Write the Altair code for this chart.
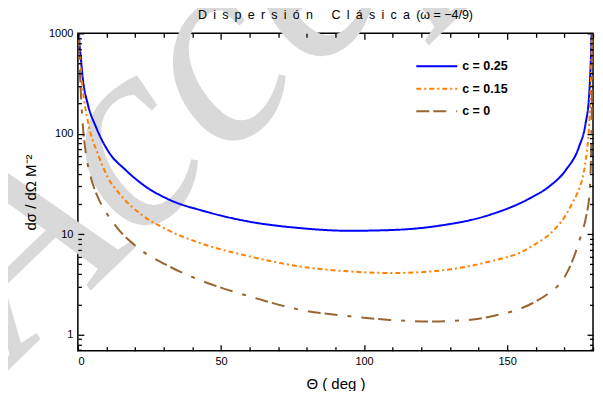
import altair as alt
import pandas as pd

# ---- data ----
series_names = ["c = 0.25", "c = 0.15", "c = 0"]

theta_c025 = [0.3, 0.45, 1.0, 1.8, 3.5, 6.3, 10.9, 16.7, 23.5, 32, 44.6, 60, 77.4, 95,
              110, 126, 144, 158, 164.6, 170.5, 175.1, 177.4, 178.6, 179.2, 179.5, 179.7]
val_c025 = [1500, 920, 580, 340, 195, 117, 65, 43.5, 30, 22, 16.8, 13.3, 11.5, 10.8,
            11.0, 12.1, 15.6, 22.8, 29.7, 43.5, 74, 126, 233, 500, 920, 1500]

theta_c015 = [0.2, 0.45, 1.05, 2.2, 3.9, 6.9, 10.4, 14.4, 23.1, 30, 43, 60, 77.4, 95,
              110, 126, 144, 155.3, 160, 163.5, 167, 170.5, 173, 175.1, 176.5, 177.8, 178.8,
              179.4, 179.7]
val_c015 = [1500, 850, 428, 216, 117, 63.7, 37, 25.5, 15, 11.5, 8.1, 6.0, 4.77, 4.25,
            4.1, 4.32, 5.35, 6.7, 8.0, 9.3, 11.5, 15.5, 21, 28, 38, 65, 150,
            500, 1500]

theta_c0 = [0.15, 0.45, 1.05, 1.6, 2.8, 4.5, 6.9, 10.4, 13.8, 20.5, 31.9, 40, 46, 60, 77.4,
            95, 109, 123, 138, 147.2, 151.8, 158.8, 164.6, 169.9, 173.4, 175.7, 177.6,
            178.8, 179.4, 179.8]
val_c0 = [1500, 676, 251, 136, 63.7, 37, 23.6, 15.6, 11.5, 7.5, 4.77, 3.74, 3.21, 2.40, 1.77,
          1.52, 1.40, 1.35, 1.41, 1.58, 1.70, 2.05, 2.59, 3.66, 6.0, 9.5, 15,
          26, 80, 1000]

x_label_values = [0, 50, 100, 150]
x_tick_values = list(range(0, 181, 10))
y_label_values = [1, 10, 100, 1000]
y_tick_values = [0.7, 0.8, 0.9] + [k * 10 ** e for e in range(0, 3) for k in range(1, 10)] + [1000]

# letter-spaced title, as in the reference
SEP = "\u2002"
title_text = (SEP.join("Dispersión") + SEP * 3 + SEP.join("Clásica") + SEP
              + "(ω\u00a0=\u00a0−4/9)")
watermark_text = "Accepted"

# ---- styles ----
colors = ["#0000FF", "#FF8000", "#996633"]
dashes = [[1, 0], [5, 3, 2, 3], [13, 4, 13, 10, 4, 10]]
widths = [2.0, 2.0, 2.5]

rows = []
for name, th, vv in [(series_names[0], theta_c025, val_c025),
                     (series_names[1], theta_c015, val_c015),
                     (series_names[2], theta_c0, val_c0)]:
    for t, v in zip(th, vv):
        rows.append({"theta": t, "val": v, "series": name})
df = pd.DataFrame(rows)

W, H = 516, 318
FONT = "Liberation Sans"
xscale = alt.Scale(domain=[0, 180], nice=False, zero=False)
yscale = alt.Scale(type="log", domain=[0.69, 1000], nice=False)
color_enc = alt.Color("series:N", scale=alt.Scale(domain=series_names, range=colors), legend=None)
dash_enc = alt.StrokeDash("series:N", scale=alt.Scale(domain=series_names, range=dashes), legend=None)
width_enc = alt.StrokeWidth("series:N", scale=alt.Scale(domain=series_names, range=widths), legend=None)

x_tick_size = {"condition": {"test": "datum.value % 50 === 0", "value": 6}, "value": 4}
y_tick_size = {"condition": {"test": "abs(log(datum.value)/LN10 - round(log(datum.value)/LN10)) < 0.001",
                             "value": 6}, "value": 3.5}

one = pd.DataFrame({"k": [0]})

# watermark (behind everything)
wm = alt.Chart(one).mark_text(
    text=watermark_text, font="Liberation Serif", fontStyle="italic", fontSize=275,
    angle=316, color="#d9d9d9", align="left", baseline="alphabetic"
).encode(x=alt.value(-62), y=alt.value(330))

lines = alt.Chart(df).mark_line(clip=True, interpolate="monotone").encode(
    x=alt.X("theta:Q", scale=xscale,
            axis=alt.Axis(values=x_label_values, ticks=False, domain=False, grid=False, zindex=1,
                          labelFontSize=11, labelFont=FONT, labelColor="black", labelPadding=5,
                          title="Θ  ( deg )", titleFont=FONT, titleFontSize=15,
                          titleFontWeight="normal", titleColor="black", titlePadding=10)),
    y=alt.Y("val:Q", scale=yscale,
            axis=alt.Axis(values=y_label_values, format="d", ticks=False, domain=False, grid=False,
                          zindex=1,
                          labelFontSize=11, labelFont=FONT, labelColor="black", labelPadding=5,
                          title="dσ / dΩ  M⁻²", titleFont=FONT, titleFontSize=15,
                          titleFontWeight="normal", titleColor="black", titlePadding=10)),
    color=color_enc, strokeDash=dash_enc, strokeWidth=width_enc,
)


def tick_layer(xorient, yorient):
    return alt.Chart(df).mark_point(opacity=0, clip=True).encode(
        x=alt.X("theta:Q", scale=xscale,
                axis=alt.Axis(orient=xorient, offset=-H, values=x_tick_values, labels=False,
                              domain=False, grid=False, title=None, tickSize=x_tick_size,
                              tickWidth=1.3, tickColor="black", zindex=1)),
        y=alt.Y("val:Q", scale=yscale,
                axis=alt.Axis(orient=yorient, offset=-W, values=y_tick_values, labels=False,
                              domain=False, grid=False, title=None, tickSize=y_tick_size,
                              tickWidth=1.3, tickColor="black", zindex=1)),
    )


ticks_in_bl = tick_layer("top", "right")     # inward ticks on bottom and left edges
ticks_in_tr = tick_layer("bottom", "left")   # inward ticks on top and right edges

leg_df = pd.DataFrame({"series": series_names})
leg_y = alt.Y("series:N", scale=alt.Scale(type="point", domain=series_names, range=[33, 78], padding=0),
              axis=None)
leg_lines = alt.Chart(leg_df).mark_rule().encode(
    x=alt.value(339), x2=alt.value(380), y=leg_y,
    color=color_enc, strokeDash=dash_enc, strokeWidth=width_enc,
)
leg_text = alt.Chart(leg_df).mark_text(
    align="left", baseline="middle", fontWeight="bold", fontSize=12.5, font=FONT, color="black"
).encode(x=alt.value(385), y=leg_y, text="series:N")

title_mark = alt.Chart(one).mark_text(
    text=title_text, font=FONT, fontSize=12.5, color="black", align="center", baseline="alphabetic"
).encode(x=alt.value(W / 2), y=alt.value(-14))

chart = alt.layer(wm, lines, ticks_in_bl, ticks_in_tr, leg_lines, leg_text, title_mark).resolve_scale(
    x="independent", y="independent"
).properties(
    width=W, height=H,
    autosize=alt.AutoSizeParams(type="none"),
    padding={"left": 70, "top": 25, "right": 2, "bottom": 40},
).configure_view(stroke="black", strokeWidth=1.5)

chart.save("out.html", embed_options={"renderer": "svg", "actions": False})
